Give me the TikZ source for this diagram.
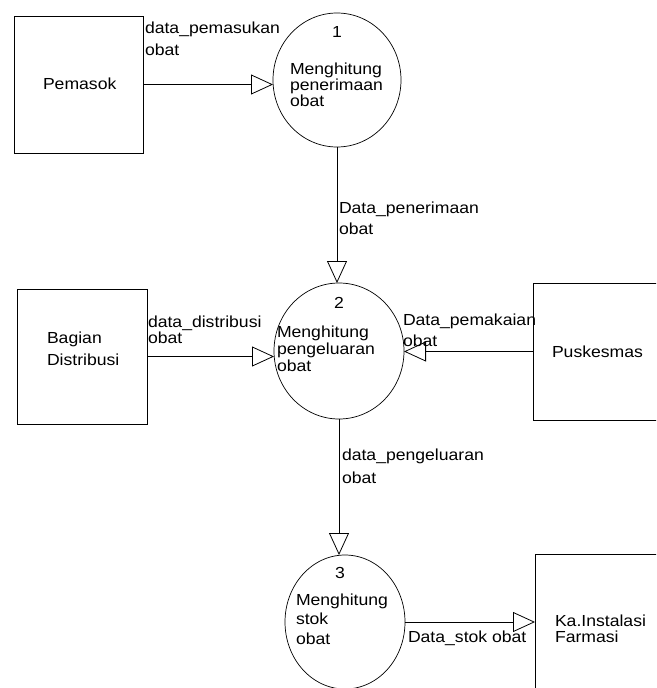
\documentclass[tikz,border=0pt]{standalone}
\usepackage{fontspec}
\setmainfont{Liberation Sans}[FakeStretch=1.1]
\usetikzlibrary{shapes.geometric,arrows.meta}

\begin{document}
\begin{tikzpicture}[x=1pt,y=-1pt,
  every node/.style={inner sep=0pt, outer sep=0pt},
  entity/.style={draw, line width=0.8pt, rectangle},
  proc/.style={draw, line width=0.7pt, ellipse},
  flow/.style={draw, line width=0.8pt, -{Triangle[open,length=22pt,width=20pt,line width=0.8pt]}},
  % multi-line texts are positioned by the baseline of their last line
  txt/.style={anchor=base west, align=left, font=\fontsize{16}{#1}\selectfont},
  txt/.default=17,
  num/.style={anchor=base, font=\fontsize{16}{17}\selectfont},
]
\useasboundingbox (0,0) rectangle (656,688);
\clip (0,0) rectangle (656,688);

% external entities
\node[entity, minimum width=129pt, minimum height=137pt] (pem) at (78.5,84.5) {};
\node[entity, minimum width=130pt, minimum height=135pt] (bag) at (82,356.5) {};
\node[entity, minimum width=137pt, minimum height=137pt] (pus) at (601.5,351.5) {};
\node[entity, minimum width=135pt, minimum height=146pt] (ka) at (602.5,627) {};

\node[txt] (pemT) at (43,89) {Pemasok};
\node[txt=22] (bagT) at (47,365) {Bagian\\Distribusi};
\node[txt] (pusT) at (552,357) {Puskesmas};
\node[txt=16] (kaT) at (555,642) {Ka.Instalasi\\Farmasi};

% processes
\node[proc, minimum width=128pt, minimum height=134pt] (c1) at (337,80) {};
\node[proc, minimum width=130pt, minimum height=136pt] (c2) at (339,351) {};
\node[proc, minimum width=120pt, minimum height=134pt] (c3) at (345,622) {};

\node[num] (n1) at (337,37) {1};
\node[txt=16] (c1T) at (290,106) {Menghitung\\penerimaan\\obat};
\node[num] (n2) at (339,308) {2};
\node[txt=17] (c2T) at (277,371) {Menghitung\\pengeluaran\\obat};
\node[num] (n3) at (340,578) {3};
\node[txt=19.5] (c3T) at (296,644) {Menghitung\\stok\\obat};

% data flows
\draw[flow] (pem.east) -- (pem.east -| c1.west);
\draw[flow] (c1.south) -- (c1.south |- c2.north);
\draw[flow] (bag.east) -- (bag.east -| c2.west);
\draw[flow] (pus.west) -- (pus.west -| c2.east);
\draw[flow] (c2.south) -- (c2.south |- c3.north);
\draw[flow] (c3.east) -- (c3.east -| ka.west);

% flow labels
\node[txt=22] (l1) at (145,55) {data\_pemasukan\\obat};
\node[txt=21] (l2) at (339,234) {Data\_penerimaan\\obat};
\node[txt=13] (l3) at (148,343) {data\_distribusi\\obat};
\node[txt=21] (l4) at (403,346) {Data\_pemakaian\\obat};
\node[txt=23] (l5) at (342,483) {data\_pengeluaran\\obat};
\node[txt] (l6) at (408,642) {Data\_stok obat};
\end{tikzpicture}
\end{document}
